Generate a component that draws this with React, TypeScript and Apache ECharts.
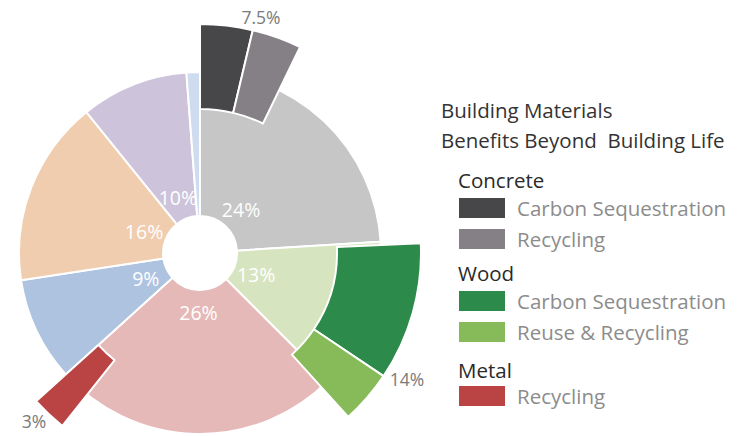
import React, { useEffect, useRef } from "react";
import * as echarts from "echarts";

// Main ring (share of the whole, %), as drawn
const mainNames = ["Concrete", "Wood", "Metal", "Material 4", "Material 5", "Material 6", "Material 7"];
const mainValues = [24, 13.5, 25.8, 9.3, 16.6, 9.6, 1.2];
const mainLabels = ["24%", "13%", "26%", "9%", "16%", "10%", ""];
const mainColors = ["#c6c6c6", "#d6e4c0", "#e6b9b9", "#adc3df", "#f0cdae", "#cdc3db", "#cfdcef"];

// Outer benefit pieces (share of the whole, %), with the empty share before each
const outerNames = [
  "Concrete Carbon Sequestration",
  "Concrete Recycling",
  "Wood Carbon Sequestration",
  "Wood Reuse & Recycling",
  "Metal Recycling",
];
const outerLabels = ["Carbon Sequestration", "Recycling", "Carbon Sequestration", "Reuse & Recycling", "Recycling"];
const outerValues = [3.7, 3.5, 10.1, 3.9, 2.6];
const outerGapsBefore = [0, 0, 17.1, 0, 22.4];
const outerColors = ["#474649", "#858085", "#2c8a4b", "#87bb59", "#b94443"];

const groupTitles = ["Concrete", "Wood", "Metal"];
const groupMembers = [[0, 1], [2, 3], [4]];
const groupTotals = ["7.5%", "14%", "3%"];

const chartTitle = "Building Materials\nBenefits Beyond  Building Life";

const FONT = "'Open Sans', 'Noto Sans', sans-serif";

export default function App() {
  const ref = useRef<HTMLDivElement>(null);

  useEffect(() => {
    if (!ref.current) return;
    const chart = echarts.init(ref.current, undefined, { renderer: "svg" });

    const transparent = { color: "rgba(0,0,0,0)", borderWidth: 0 };

    const mainData = mainValues.map((v, i) => ({
      value: v,
      name: mainNames[i],
      itemStyle: { color: mainColors[i] },
    }));

    const labelData = mainValues.map((v, i) => ({
      value: v,
      name: mainNames[i] + " label",
      itemStyle: transparent,
    }));

    // one data list per group: its own pieces coloured, everything else empty
    const buildOuter = (members: number[]) => {
      const data: any[] = [];
      let used = 0;
      outerValues.forEach((v, i) => {
        if (outerGapsBefore[i] > 0) {
          data.push({ value: outerGapsBefore[i], name: "gap" + i, itemStyle: transparent, emphasis: { disabled: true } });
          used += outerGapsBefore[i];
        }
        if (members.includes(i)) {
          data.push({ value: v, name: outerNames[i], itemStyle: { color: outerColors[i] } });
        } else {
          data.push({ value: v, name: "empty" + i, itemStyle: transparent, emphasis: { disabled: true } });
        }
        used += v;
      });
      data.push({ value: Math.max(0, 100 - used), name: "gapEnd", itemStyle: transparent, emphasis: { disabled: true } });
      return data;
    };

    const groupRadius = [
      [144, 229],
      [137, 221],
      [137, 221],
    ];

    const legendTops = [196, 289, 384];
    const titleTops = [168, 261, 358];

    const legends = groupMembers.map((members, g) => ({
      data: members.map((i) => outerNames[i]),
      left: 457,
      top: legendTops[g],
      orient: "vertical",
      icon: "rect",
      itemWidth: 48,
      itemHeight: 22,
      itemGap: 7,
      padding: 0,
      selectedMode: false,
      formatter: (name: string) => outerLabels[outerNames.indexOf(name)],
      textStyle: {
        color: "#8c8c8c",
        fontSize: 20.5,
        fontFamily: FONT,
        padding: [0, 0, 0, 6],
      },
    }));

    const titles: any[] = [
      {
        text: chartTitle,
        left: 441,
        top: 95,
        padding: 0,
        textStyle: { color: "#333333", fontSize: 20.5, fontWeight: "normal", fontFamily: FONT, lineHeight: 30 },
      },
      ...groupTitles.map((t, g) => ({
        text: t,
        left: 458,
        top: titleTops[g],
        padding: 0,
        textStyle: { color: "#2a2a2a", fontSize: 20.5, fontWeight: "normal", fontFamily: FONT, lineHeight: 24 },
      })),
    ];

    const totalPos = [
      [261, 17],
      [407, 379],
      [34, 421],
    ];

    chart.setOption({
      animation: false,
      title: titles,
      legend: legends,
      graphic: groupTotals.map((t, g) => ({
        type: "text",
        x: totalPos[g][0],
        y: totalPos[g][1],
        style: {
          text: t,
          fill: "#7a7a7a",
          fontSize: 17.5,
          fontFamily: FONT,
          align: "center",
          verticalAlign: "middle",
        },
      })),
      series: [
        {
          type: "pie",
          name: "main",
          center: [200, 253],
          radius: [37, 181],
          startAngle: 90,
          clockwise: true,
          avoidLabelOverlap: false,
          label: { show: false },
          labelLine: { show: false },
          itemStyle: { borderColor: "#ffffff", borderWidth: 2 },
          data: mainData,
        },
        ...groupMembers.map((members, g) => ({
          type: "pie",
          name: "benefits " + groupTitles[g],
          center: [200, 253],
          radius: groupRadius[g],
          startAngle: 90,
          clockwise: true,
          avoidLabelOverlap: false,
          label: { show: false },
          labelLine: { show: false },
          itemStyle: { borderColor: "#ffffff", borderWidth: 2 },
          data: buildOuter(members),
        })),
        {
          type: "pie",
          name: "labels",
          center: [200, 253],
          radius: [37, 77],
          startAngle: 90,
          clockwise: true,
          silent: true,
          avoidLabelOverlap: false,
          labelLine: { show: false },
          label: {
            show: true,
            position: "inside",
            formatter: (p: any) => mainLabels[p.dataIndex],
            color: "#ffffff",
            fontSize: 19.5,
            fontFamily: FONT,
          },
          data: labelData,
        },
      ],
    });

    return () => chart.dispose();
  }, []);

  return (
    <div
      ref={ref}
      style={{ position: "absolute", left: 0, top: 0, width: 743, height: 436, background: "#ffffff" }}
    />
  );
}
